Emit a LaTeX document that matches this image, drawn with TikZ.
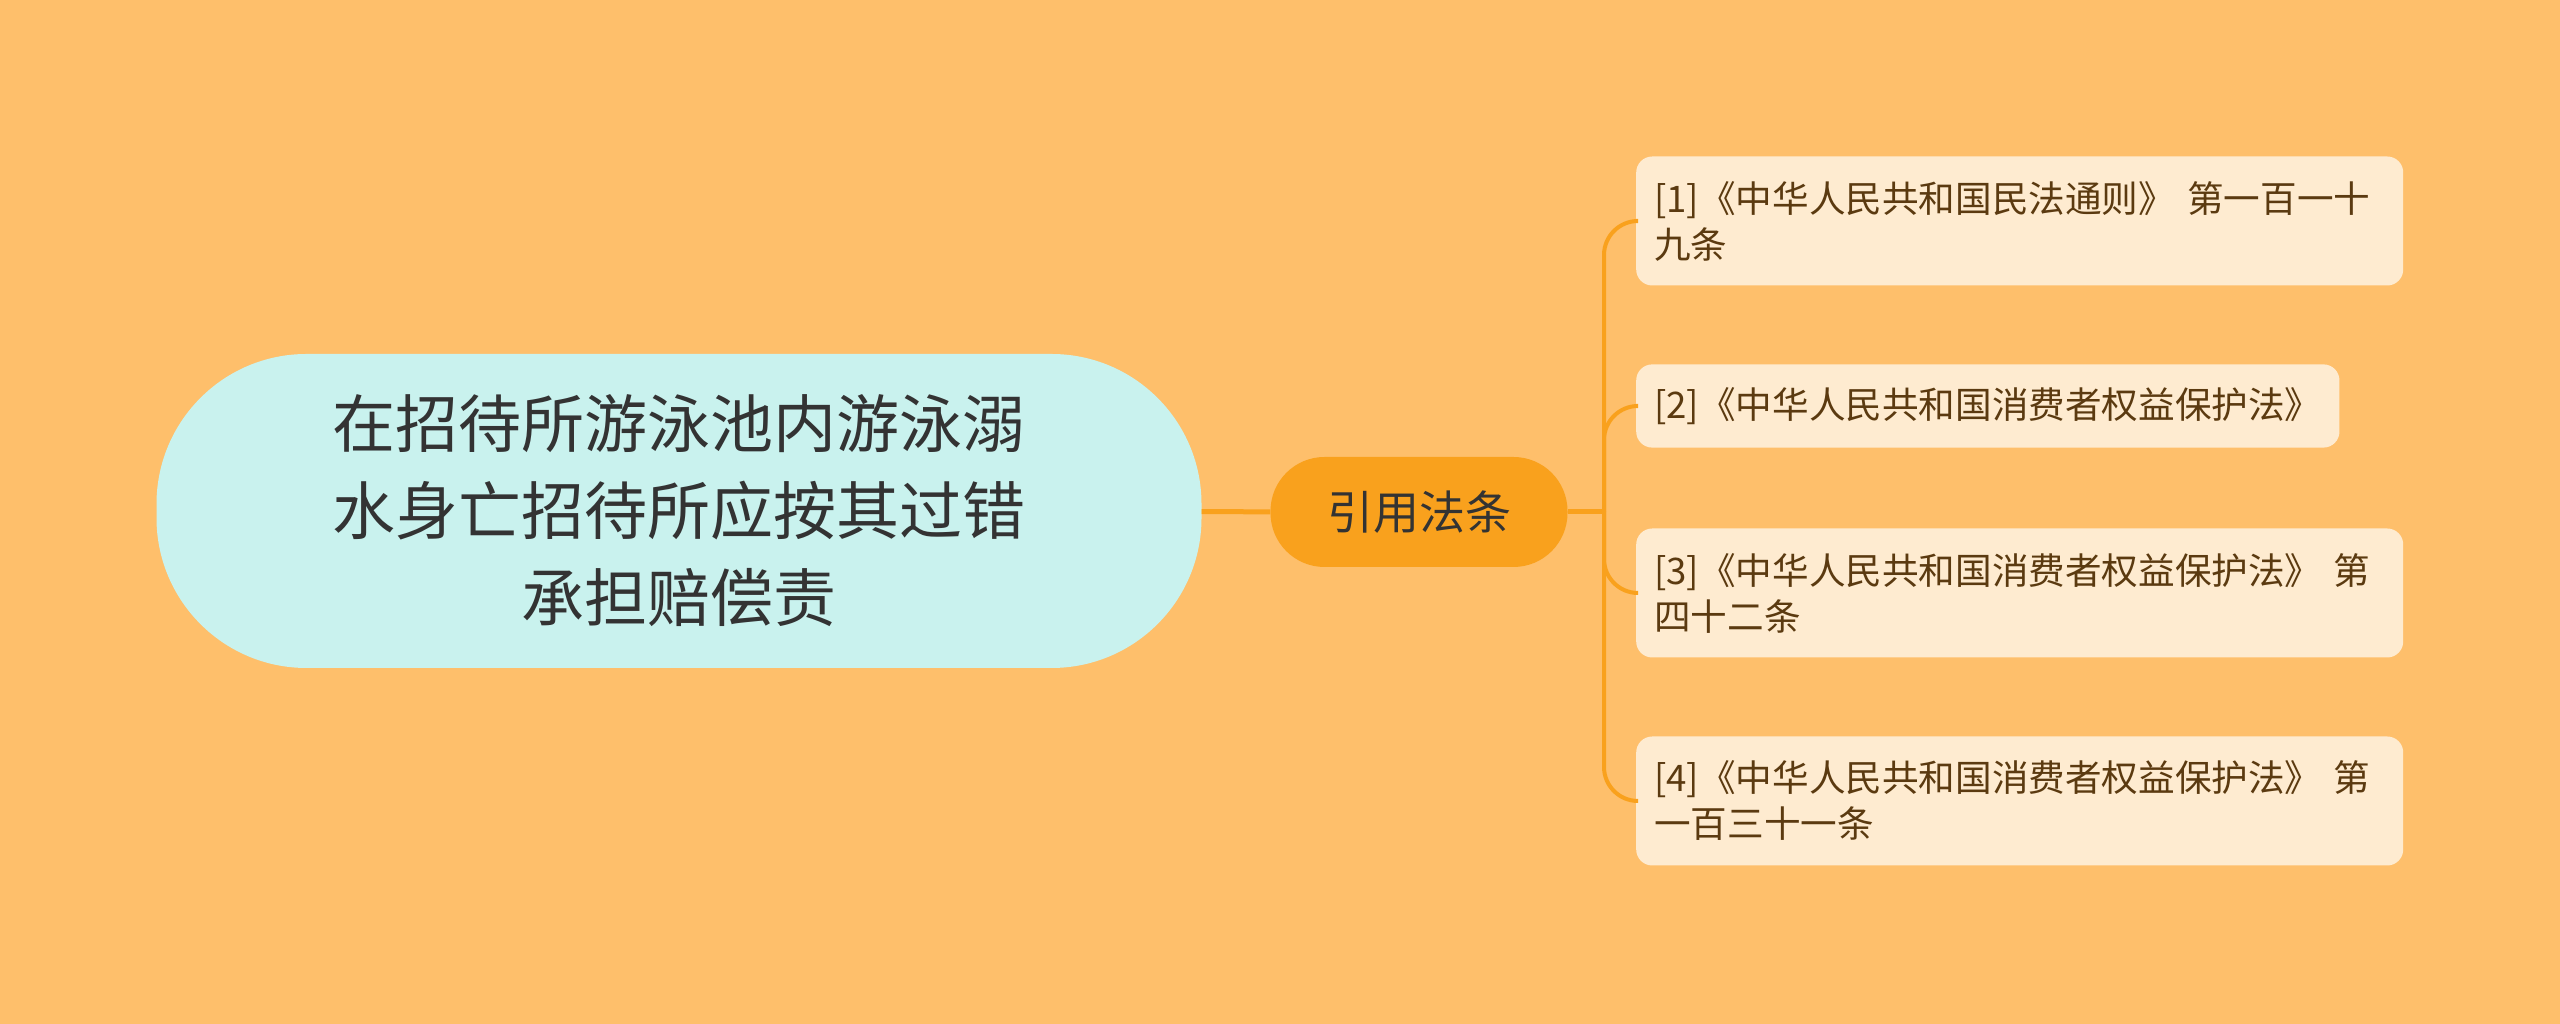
\documentclass[tikz,border=0pt]{standalone}
\usepackage{fontspec}
\newfontfamily\cjk{Noto Sans CJK SC}
\usepackage{xcolor}
\usepackage{tikz}
\usetikzlibrary{positioning}
\definecolor{bgorange}{HTML}{FEBF6B}
\definecolor{midorange}{HTML}{F9A11D}
\definecolor{rootcyan}{HTML}{C9F2EE}
\definecolor{leafcream}{HTML}{FEEBD0}
\definecolor{leaftext}{HTML}{5B3A10}
\tikzset{
    rootnode/.style = {rectangle, rounded corners=150pt, fill=rootcyan, align=center, text=black!80, minimum width=1045pt, minimum height=314pt, font=\cjk\fontsize{63pt}{87pt}\selectfont},
    midnode/.style = {rectangle, rounded corners=54pt, fill=midorange, align=center, text=black!80, minimum width=297pt, minimum height=110pt, font=\cjk\fontsize{46pt}{56pt}\selectfont},
    leafnode/.style = {rectangle, rounded corners=16pt, fill=leafcream, align=left, text=leaftext, anchor=west, inner xsep=18pt, inner ysep=23pt, minimum height=81pt, font=\cjk\fontsize{36.6pt}{46pt}\selectfont},
    leafwide/.style = {leafnode, text width=731pt, minimum height=129pt},
    edgen/.style = {-, line width=5pt, midorange},
    edgeb/.style = {-, line width=4pt, midorange, rounded corners=34pt},
}
\begin{document}
\begin{tikzpicture}[x=1pt, y=1pt]
\fill[bgorange] (0,0) rectangle (2560,1024);
\useasboundingbox (0,0) rectangle (2560,1024);
\node[rootnode] at (679,513) (root) {在招待所游泳池内游泳溺\\水身亡招待所应按其过错\\承担赔偿责};
\node[midnode] at (1419,512) (cite) {引用法条};
\coordinate (hub) at (1604,512);
\node[leafwide] at (1636,803) (l1) {[1]《中华人民共和国民法通则》 第一百一十\\九条};
\node[leafnode] at (1636,618) (l2) {[2]《中华人民共和国消费者权益保护法》};
\node[leafwide] at (1636,431) (l3) {[3]《中华人民共和国消费者权益保护法》 第\\四十二条};
\node[leafwide] at (1636,223) (l4) {[4]《中华人民共和国消费者权益保护法》 第\\一百三十一条};
\draw[edgen] (root) to (cite);
\draw[edgen] (cite) to (hub);
\draw[edgeb] (hub) |- (l1.west);
\draw[edgeb] (hub) |- (l2.west);
\draw[edgeb] (hub) |- (l3.west);
\draw[edgeb] (hub) |- (l4.west);
\end{tikzpicture}
\end{document}
